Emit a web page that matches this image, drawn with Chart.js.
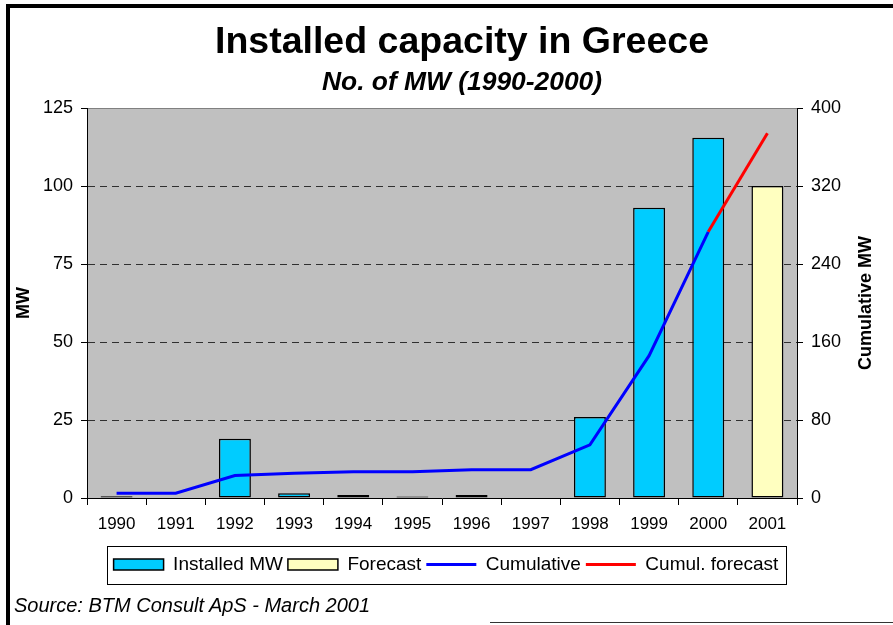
<!DOCTYPE html>
<html>
<head>
<meta charset="utf-8">
<script src="https://cdn.jsdelivr.net/npm/chart.js@4.4.1/dist/chart.umd.min.js"></script>
<style>
  body { margin: 0; background: #fff; }
  #wrap { position: relative; width: 893px; height: 625px; overflow: hidden; }
  #frame { position: absolute; left: 6px; top: 4px; width: 900px; height: 640px;
           border-top: 4px solid #000; border-left: 4px solid #000; box-sizing: border-box; }
  #bottomLine { position: absolute; left: 490px; top: 622px; width: 403px; height: 1px; background: #333; }
  #source { position: absolute; left: 14px; top: 594px; font: italic 20px "Liberation Sans", Arial, sans-serif; color: #000; }
</style>
</head>
<body>
<div id="wrap">
  <canvas id="myChart" width="893" height="625"></canvas>
  <div id="frame"></div>
  <div id="bottomLine"></div>
  <div id="source">Source: BTM Consult ApS - March 2001</div>
</div>
<script>
var years = ["1990", "1991", "1992", "1993", "1994", "1995", "1996", "1997", "1998", "1999", "2000", "2001"];
var installedMW = [0.6, null, 19, 1.5, 1, 0.5, 1, null, 26, 93, 115.5, null];
var forecastMW = [null, null, null, null, null, null, null, null, null, null, null, 100];
var cumulativeMW = [5, 5, 23, 25.5, 27, 27, 29, 29, 54.5, 146, 273, null];
var cumulForecastMW = [null, null, null, null, null, null, null, null, null, null, 273, 374];

var titleText = "Installed capacity in Greece";
var subtitleText = "No. of MW (1990-2000)";

var FONT = "'Liberation Sans', Arial, sans-serif";

// grey plot area + thin top border
var plotBg = {
    id: "plotBg",
    beforeDraw: function(chart) {
        var a = chart.chartArea, ctx = chart.ctx;
        ctx.save();
        ctx.fillStyle = "#c0c0c0";
        ctx.fillRect(a.left, a.top, a.right - a.left, a.bottom - a.top);
        ctx.strokeStyle = "#808080";
        ctx.lineWidth = 1;
        ctx.beginPath();
        ctx.moveTo(a.left, a.top + 0.5);
        ctx.lineTo(a.right, a.top + 0.5);
        ctx.stroke();
        ctx.restore();
    }
};

// titles, legend frame, right axis title (reads bottom to top)
var extras = {
    id: "extras",
    afterDraw: function(chart) {
        var ctx = chart.ctx;
        ctx.save();
        ctx.fillStyle = "#000";
        ctx.textAlign = "center";
        ctx.textBaseline = "middle";
        ctx.font = "bold 37.5px " + FONT;
        ctx.fillText(titleText, 462, 43);
        ctx.font = "italic bold 26.4px " + FONT;
        ctx.fillText(subtitleText, 462, 83);
        ctx.restore();

        var boxes = chart.legend.legendHitBoxes;
        if (boxes && boxes.length) {
            var l = boxes[0].left, r = 0, cy = boxes[0].top + boxes[0].height / 2;
            boxes.forEach(function(b) {
                l = Math.min(l, b.left);
                r = Math.max(r, b.left + b.width);
            });
            ctx.save();
            ctx.strokeStyle = "#000";
            ctx.lineWidth = 1;
            ctx.strokeRect(Math.round(l - 7) + 0.5, Math.round(cy - 19) + 0.5, Math.round(r - l + 14), 38);
            ctx.restore();
        }

        var a = chart.chartArea;
        ctx.save();
        ctx.translate(866, (a.top + a.bottom) / 2);
        ctx.rotate(-Math.PI / 2);
        ctx.font = "bold 18px " + FONT;
        ctx.fillStyle = "#000";
        ctx.textAlign = "center";
        ctx.textBaseline = "middle";
        ctx.fillText("Cumulative MW", 0, 0);
        ctx.restore();
    }
};

new Chart("myChart", {
    type: "bar",
    data: {
        labels: years,
        datasets: [{
            label: "Installed MW",
            data: installedMW,
            backgroundColor: "#00ccff",
            borderColor: "#000",
            borderWidth: 1.5,
            borderSkipped: false,
            grouped: false,
            yAxisID: "y",
            order: 2
        }, {
            label: "Forecast",
            data: forecastMW,
            backgroundColor: "#ffffc0",
            borderColor: "#000",
            borderWidth: 1.5,
            borderSkipped: false,
            grouped: false,
            yAxisID: "y",
            order: 2
        }, {
            type: "line",
            label: "Cumulative",
            data: cumulativeMW,
            borderColor: "#0000ff",
            backgroundColor: "#0000ff",
            borderWidth: 3,
            pointRadius: 0,
            tension: 0,
            yAxisID: "y1",
            order: 1
        }, {
            type: "line",
            label: "Cumul. forecast",
            data: cumulForecastMW,
            borderColor: "#ff0000",
            backgroundColor: "#ff0000",
            borderWidth: 3,
            pointRadius: 0,
            tension: 0,
            yAxisID: "y1",
            order: 0
        }]
    },
    options: {
        responsive: false,
        animation: false,
        categoryPercentage: 1,
        barPercentage: 0.54,
        layout: { padding: { left: 4, right: 5, top: 108, bottom: 41 } },
        plugins: {
            tooltip: { enabled: false },
            title: { display: false },
            legend: {
                position: "bottom",
                labels: {
                    color: "#000",
                    font: { family: FONT, size: 19 },
                    usePointStyle: true,
                    pointStyleWidth: 50,
                    boxHeight: 11,
                    padding: 5,
                    sort: function(a, b) { return a.datasetIndex - b.datasetIndex; },
                    generateLabels: function(chart) {
                        var items = Chart.defaults.plugins.legend.labels.generateLabels(chart);
                        items.forEach(function(it) {
                            if (it.datasetIndex < 2) {
                                it.pointStyle = "rect";
                                it.lineWidth = 1.5;
                                it.strokeStyle = "#000";
                            } else {
                                it.pointStyle = "line";
                                it.lineWidth = 3;
                            }
                        });
                        return items;
                    }
                }
            }
        },
        scales: {
            x: {
                offset: true,
                grid: { offset: true, drawOnChartArea: false, drawTicks: true, tickLength: 7, tickColor: "#000" },
                border: { color: "#000", width: 1 },
                ticks: { color: "#000", font: { family: FONT, size: 17 }, padding: 9, maxRotation: 0 },
                afterFit: function(scale) { scale.height = 52; }
            },
            y: {
                position: "left",
                min: 0,
                max: 125,
                ticks: { stepSize: 25, color: "#000", font: { family: FONT, size: 18 }, padding: 8 },
                grid: {
                    color: function(c) {
                        var v = c.tick ? c.tick.value : 0;
                        return (v === 0 || v === 125) ? "rgba(0,0,0,0)" : "#303030";
                    },
                    tickColor: "#000",
                    tickLength: 6
                },
                border: { color: "#000", width: 1, dash: [7, 5] },
                title: { display: true, text: "MW", color: "#000", font: { family: FONT, size: 18, weight: "bold" }, padding: { top: 9, bottom: 4 } },
                afterFit: function(scale) { scale.width = 83; }
            },
            y1: {
                position: "right",
                min: 0,
                max: 400,
                ticks: { stepSize: 80, color: "#000", font: { family: FONT, size: 18 }, padding: 8 },
                grid: { drawOnChartArea: false, tickColor: "#000", tickLength: 6 },
                border: { color: "#000", width: 1 },
                afterFit: function(scale) { scale.width = 91; }
            }
        }
    },
    plugins: [plotBg, extras]
});
</script>
</body>
</html>
